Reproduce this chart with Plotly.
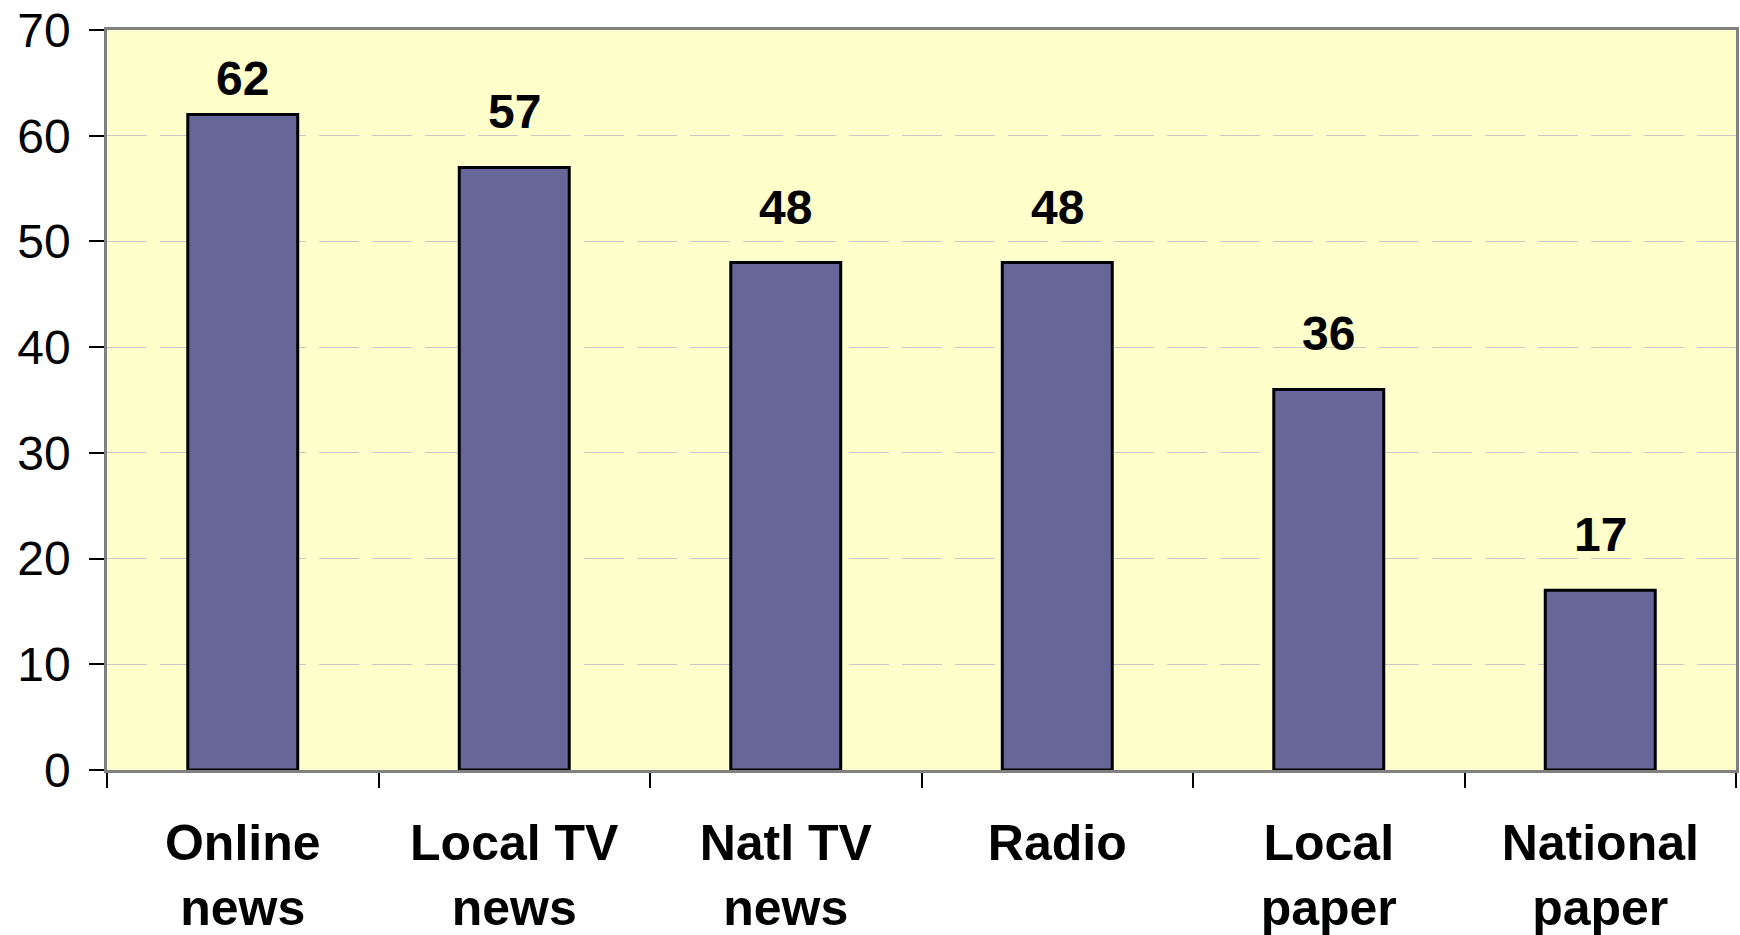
import plotly.graph_objects as go

categories = ["Online<br>news", "Local TV<br>news", "Natl TV<br>news", "Radio", "Local<br>paper", "National<br>paper"]
values = [62, 57, 48, 48, 36, 17]
y_ticks = [0, 10, 20, 30, 40, 50, 60, 70]

FONT = "Liberation Sans, Arial, sans-serif"

fig = go.Figure()
fig.add_bar(
    x=categories,
    y=values,
    width=0.405,
    marker=dict(color="#666699", line=dict(color="black", width=3)),
    showlegend=False,
)

for c, v in zip(categories, values):
    # labels near the top of the range get squeezed down towards the bar
    shift = 8 if v > 60 else 27
    fig.add_annotation(
        x=c, y=v, text=f"<b>{v}</b>", showarrow=False,
        yanchor="bottom", yshift=shift,
        font=dict(family=FONT, size=48, color="black"),
    )

fig.update_layout(
    width=1740,
    height=935,
    margin=dict(l=107, r=4, t=30, b=165),
    paper_bgcolor="white",
    plot_bgcolor="#FFFFCC",
    font=dict(family=FONT, color="black"),
    bargap=0.595,
)

fig.update_xaxes(
    automargin=False,
    tickson="boundaries",
    ticks="outside",
    ticklen=15,
    tickwidth=1.5,
    tickcolor="black",
    showline=True,
    linecolor="#808080",
    linewidth=2.5,
    mirror=True,
    showgrid=False,
    tickfont=dict(family=FONT, size=50, color="black", weight="bold"),
    ticklabelstandoff=27,
    ticklabeloverflow="allow",
)

fig.update_yaxes(
    automargin=False,
    range=[0, 70],
    tickvals=y_ticks,
    ticks="outside",
    ticklen=15,
    tickwidth=1.5,
    tickcolor="black",
    showline=True,
    linecolor="#808080",
    linewidth=2.5,
    mirror=True,
    showgrid=True,
    gridcolor="#C8C8C8",
    gridwidth=1,
    griddash="40px,13px",
    zeroline=False,
    tickfont=dict(family=FONT, size=48, color="black"),
    ticklabelstandoff=9,
    ticklabeloverflow="allow",
)

# drop the default 8px page margin so the figure fills the window exactly
fig.write_html(
    "out.html",
    config={"displayModeBar": False},
    post_script="document.body.style.margin='0';document.body.style.overflow='hidden';",
)
